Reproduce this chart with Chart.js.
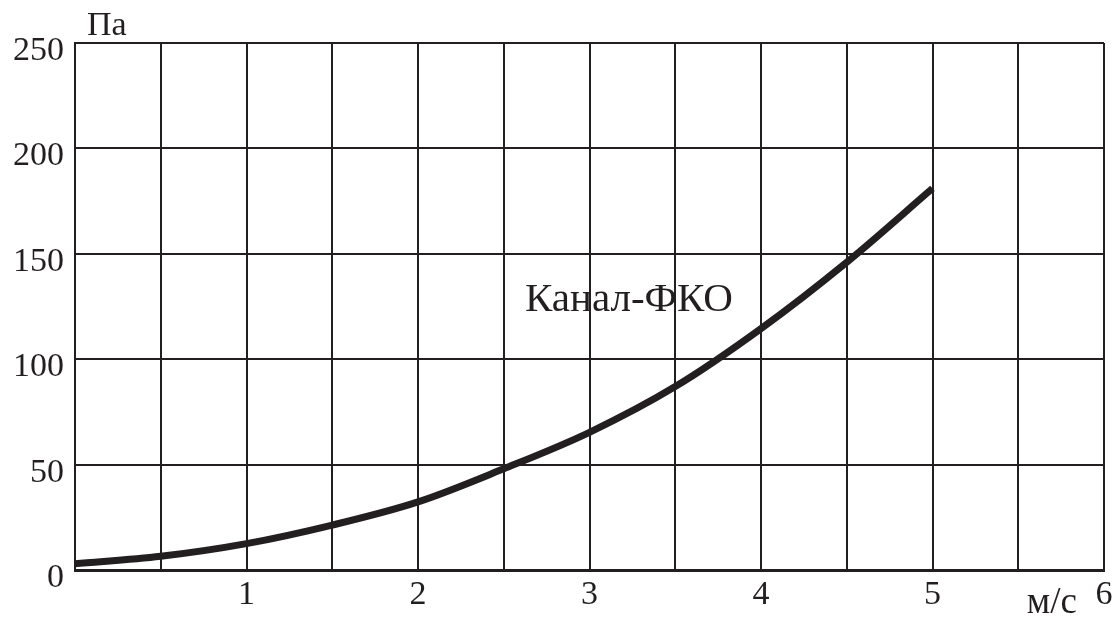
<!DOCTYPE html>
<html><head><meta charset="utf-8">
<script src="https://cdn.jsdelivr.net/npm/chart.js@4/dist/chart.umd.min.js"></script>
<style>html,body{margin:0;padding:0;background:#fff;}#wrap{width:1112px;height:622px;}</style>
</head><body><div id="wrap"><canvas id="c" width="1112" height="622"></canvas></div>
<script>
const speeds = [0, 0.5, 1, 1.5, 2, 2.5, 3, 3.5, 4, 4.5, 5];
const pressures = [3, 6.5, 12.5, 21.3, 32.3, 48, 65.3, 87, 114.5, 146, 181];
const xTickLabels = ['1', '2', '3', '4', '5', '6'];
const yTickLabels = ['0', '50', '100', '150', '200', '250'];
const seriesName = 'Канал-ФКО';
const yUnit = 'Па';
const xUnit = 'м/с';

const FONT = '"Liberation Serif", "DejaVu Serif", serif';
const INK = '#231f20';

const textPlugin = {
  id: 'texts',
  afterDraw(chart) {
    const ctx = chart.ctx;
    const xs = chart.scales.x, ys = chart.scales.y;
    ctx.save();
    ctx.fillStyle = INK;
    ctx.textBaseline = 'middle';
    ctx.font = '34px ' + FONT;
    ctx.textAlign = 'left';
    ctx.fillText(yUnit, xs.left + 12, ys.top - 17);
    ctx.font = '37px ' + FONT;
    ctx.fillText(xUnit, xs.getPixelForValue(5.55), ys.bottom + 33);
    ctx.font = '41px ' + FONT;
    ctx.textAlign = 'center';
    ctx.fillText(seriesName, xs.getPixelForValue(3.23), ys.getPixelForValue(128));
    ctx.restore();
  }
};

new Chart(document.getElementById('c'), {
  type: 'line',
  data: {
    datasets: [{
      label: seriesName,
      data: speeds.map((s, i) => ({x: s, y: pressures[i]})),
      borderColor: INK,
      borderWidth: 7,
      pointRadius: 0,
      cubicInterpolationMode: 'monotone',
      fill: false
    }]
  },
  options: {
    responsive: false,
    animation: false,
    layout: {padding: {top: 43, right: 8, left: 0, bottom: 0}},
    plugins: {legend: {display: false}, tooltip: {enabled: false}},
    scales: {
      x: {
        type: 'linear', min: 0, max: 6,
        border: {display: true, color: INK, width: 3},
        grid: {color: INK, lineWidth: 2, drawTicks: false},
        ticks: {
          stepSize: 0.5, autoSkip: false, maxRotation: 0,
          color: INK, font: {family: FONT, size: 34}, padding: 5,
          callback: (v) => {
            const idx = xTickLabels.indexOf(String(v));
            return idx >= 0 ? xTickLabels[idx] : '';
          }
        },
        afterFit: (s) => { s.height = 52; s.paddingRight = 0; s.paddingLeft = 0; }
      },
      y: {
        type: 'linear', min: 0, max: 250,
        border: {display: true, color: INK, width: 2},
        grid: {color: INK, lineWidth: 2, drawTicks: false},
        ticks: {
          stepSize: 50, color: INK, font: {family: FONT, size: 34}, padding: 11,
          labelOffset: 8,
          callback: (v) => {
            const idx = yTickLabels.indexOf(String(v));
            return idx >= 0 ? yTickLabels[idx] : '';
          }
        },
        afterFit: (s) => { s.width = 75; s.paddingTop = 0; s.paddingBottom = 0; }
      }
    }
  },
  plugins: [textPlugin]
});
</script></body></html>
